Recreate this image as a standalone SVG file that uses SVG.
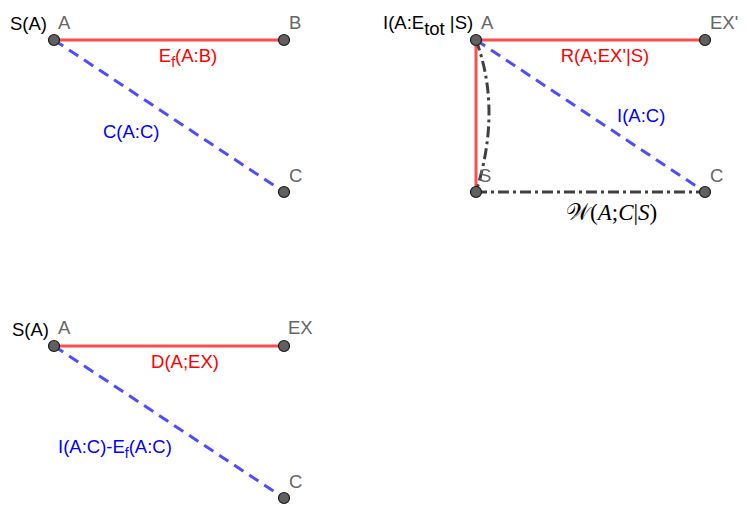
<svg xmlns="http://www.w3.org/2000/svg" width="747" height="516" viewBox="0 0 747 516">
<style>
text{font-family:"Liberation Sans",Arial,sans-serif;font-size:18.5px}
.lbl{fill:#666666}
.blk{fill:#000000}
.red{fill:#ff0000}
.blue{fill:#0000ff}
.r{stroke:#ff4d4d;stroke-width:3;fill:none}
.b{stroke:#4d4dff;stroke-width:3;stroke-dasharray:11 7;fill:none}
.dd{stroke:#404040;stroke-width:3;stroke-dasharray:11 4 3 4;fill:none}
.pt{fill:#606060;stroke:#1a1a1a;stroke-width:1.2}
.m{font-family:"Liberation Serif","DejaVu Serif",serif;font-size:23px;fill:#000}
.i{font-style:italic}
</style>
<rect width="747" height="516" fill="#ffffff"/>
<g id="connectors">
<line class="r" x1="54" y1="40" x2="284" y2="40"/>
<line class="b" x1="54" y1="40" x2="284" y2="192"/>
<line class="r" x1="476" y1="40" x2="705" y2="40"/>
<line class="r" x1="476" y1="40" x2="476" y2="192"/>
<line class="b" x1="476" y1="40" x2="705" y2="192"/>
<path class="dd" d="M476 40 Q502 110 476 192"/>
<line class="dd" x1="476" y1="192" x2="705" y2="192"/>
<line class="r" x1="54" y1="346" x2="284" y2="346"/>
<line class="b" x1="54" y1="346" x2="284" y2="498"/>
</g>
<g id="edge-labels">
<text class="red" x="188" y="62" text-anchor="middle">E<tspan font-size="14" dy="5">f</tspan><tspan dy="-5">(A:B)</tspan></text>
<text class="blue" x="103" y="138">C(A:C)</text>
<text class="red" x="605" y="62" text-anchor="middle">R(A;EX'|S)</text>
<text class="blue" x="617" y="122">I(A:C)</text>
<text class="m" x="566" y="220">𝒲(<tspan class="i">A</tspan>;<tspan class="i">C</tspan>|<tspan class="i">S</tspan>)</text>
<text class="red" x="185" y="368" text-anchor="middle">D(A;EX)</text>
<text class="blue" x="58" y="453">I(A:C)-E<tspan font-size="14" dy="5">f</tspan><tspan dy="-5">(A:C)</tspan></text>
</g>
<g id="p1-A"><circle class="pt" cx="54" cy="40" r="5.5"/><text class="blk" x="10" y="30">S(A)</text><text class="lbl" x="58" y="29">A</text></g>
<g id="p1-B"><circle class="pt" cx="284" cy="40" r="5.5"/><text class="lbl" x="289" y="29">B</text></g>
<g id="p1-C"><circle class="pt" cx="284" cy="192" r="5.5"/><text class="lbl" x="289" y="182">C</text></g>
<g id="p2-A"><circle class="pt" cx="476" cy="40" r="5.5"/><text class="blk" x="383" y="29">I(A:E<tspan dy="6">tot</tspan><tspan dy="-6"> |S)</tspan></text><text class="lbl" x="481" y="29">A</text></g>
<g id="p2-EX"><circle class="pt" cx="705" cy="40" r="5.5"/><text class="lbl" x="710" y="29">EX'</text></g>
<g id="p2-S"><circle class="pt" cx="476" cy="192" r="5.5"/><text class="lbl" x="479" y="182">S</text></g>
<g id="p2-C"><circle class="pt" cx="705" cy="192" r="5.5"/><text class="lbl" x="710" y="182">C</text></g>
<g id="p3-A"><circle class="pt" cx="54" cy="346" r="5.5"/><text class="blk" x="12" y="336">S(A)</text><text class="lbl" x="58" y="334">A</text></g>
<g id="p3-EX"><circle class="pt" cx="284" cy="346" r="5.5"/><text class="lbl" x="288" y="334">EX</text></g>
<g id="p3-C"><circle class="pt" cx="284" cy="498" r="5.5"/><text class="lbl" x="289" y="488">C</text></g>
</svg>
